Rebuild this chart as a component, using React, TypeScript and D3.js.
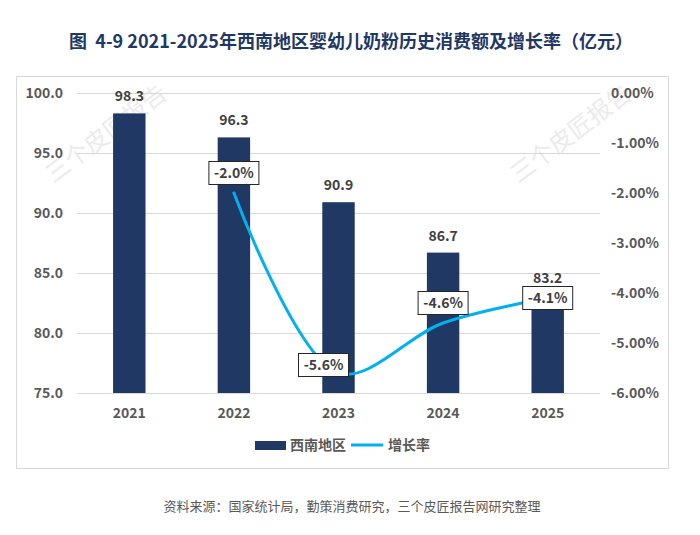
import { useEffect, useRef } from "react";
import * as d3 from "d3";

const years = ["2021", "2022", "2023", "2024", "2025"];
const consumption = [98.3, 96.3, 90.9, 86.7, 83.2];
const growthYears = ["2022", "2023", "2024", "2025"];
const growthRate = [-2.0, -5.6, -4.6, -4.1];
const leftTicks = [75, 80, 85, 90, 95, 100];
const rightTicks = [0, -1, -2, -3, -4, -5, -6];

const title = "图  4-9 2021-2025年西南地区婴幼儿奶粉历史消费额及增长率（亿元）";
const source = "资料来源：国家统计局，勤策消费研究，三个皮匠报告网研究整理";
const watermark = "三个皮匠报告";

// where each growth label sits relative to its point (Excel-like placement)
const growthLabelOffset = [
  { dx: 0, dy: -20 },
  { dx: -15, dy: -8 },
  { dx: 0, dy: -20 },
  { dx: 0, dy: 0 },
];

const FONT = "'Noto Sans CJK SC', 'Open Sans', sans-serif";
const NAVY = "#203864";
const CYAN = "#00b0f0";
const GREY = "#595959";

export default function App() {
  const svgRef = useRef<SVGSVGElement>(null);

  const dims = {
    width: 700,
    height: 535,
    plotLeft: 77,
    plotRight: 600,
    plotTop: 93,
    plotBottom: 393,
  };

  useEffect(() => {
    const svg = d3.select(svgRef.current);
    svg.selectAll("*").remove();

    svg
      .append("rect")
      .attr("width", dims.width)
      .attr("height", dims.height)
      .attr("fill", "white");

    // title
    svg
      .append("text")
      .attr("x", 351)
      .attr("y", 48)
      .attr("text-anchor", "middle")
      .attr("font-family", FONT)
      .attr("font-size", 18)
      .attr("font-weight", "bold")
      .attr("fill", "#1f3864")
      .attr("xml:space", "preserve")
      .text(title);

    // chart frame
    svg
      .append("rect")
      .attr("x", 16.5)
      .attr("y", 76.5)
      .attr("width", 652)
      .attr("height", 392)
      .attr("fill", "white")
      .attr("stroke", "#d9d9d9");

    // watermarks
    [
      [107, 135],
      [572, 135],
    ].forEach(([cx, cy]) => {
      svg
        .append("text")
        .attr("transform", `translate(${cx},${cy}) rotate(-37)`)
        .attr("text-anchor", "middle")
        .attr("dominant-baseline", "middle")
        .attr("font-family", FONT)
        .attr("font-size", 24)
        .attr("fill", "#ebebeb")
        .text(watermark);
    });

    const x = d3
      .scaleBand()
      .domain(years)
      .range([dims.plotLeft, dims.plotRight])
      .paddingInner(0.69)
      .paddingOuter(0.345);
    const xCenter = (d: string) =>
      (x(d) as number) + x.bandwidth() / 2;

    const yLeft = d3
      .scaleLinear()
      .domain([75, 100])
      .range([dims.plotBottom, dims.plotTop]);
    const yRight = d3
      .scaleLinear()
      .domain([-6, 0])
      .range([dims.plotBottom, dims.plotTop]);

    // gridlines
    svg
      .append("g")
      .selectAll("line")
      .data(leftTicks)
      .enter()
      .append("line")
      .attr("x1", dims.plotLeft)
      .attr("x2", dims.plotRight)
      .attr("y1", (d) => Math.round(yLeft(d)) + 0.5)
      .attr("y2", (d) => Math.round(yLeft(d)) + 0.5)
      .attr("stroke", "#d9d9d9")
      .attr("stroke-width", 1);

    // left axis
    const leftAxis = svg
      .append("g")
      .attr("transform", `translate(${dims.plotLeft - 11},0)`)
      .call(
        d3
          .axisLeft(yLeft)
          .tickValues(leftTicks)
          .tickSize(0)
          .tickFormat((d) => (d as number).toFixed(1))
      );
    leftAxis.select(".domain").remove();
    leftAxis
      .selectAll("text")
      .attr("font-family", FONT)
      .attr("font-size", 14)
      .attr("font-weight", "bold")
      .attr("fill", GREY);

    // right axis
    const rightAxis = svg
      .append("g")
      .attr("transform", `translate(${dims.plotRight + 8},0)`)
      .call(
        d3
          .axisRight(yRight)
          .tickValues(rightTicks)
          .tickSize(0)
          .tickFormat((d) => (d as number).toFixed(2) + "%")
      );
    rightAxis.select(".domain").remove();
    rightAxis
      .selectAll("text")
      .attr("font-family", FONT)
      .attr("font-size", 14)
      .attr("font-weight", "bold")
      .attr("fill", GREY);

    // bottom axis
    const bottomAxis = svg
      .append("g")
      .attr("transform", `translate(0,${dims.plotBottom + 12})`)
      .call(d3.axisBottom(x).tickSize(0));
    bottomAxis.select(".domain").remove();
    bottomAxis
      .selectAll("text")
      .attr("font-family", FONT)
      .attr("font-size", 14)
      .attr("font-weight", "bold")
      .attr("fill", GREY);

    // bars
    const barData = years.map((y, i) => ({ year: y, value: consumption[i] }));
    svg
      .append("g")
      .selectAll("rect")
      .data(barData)
      .enter()
      .append("rect")
      .attr("x", (d) => x(d.year)!)
      .attr("width", x.bandwidth())
      .attr("y", (d) => yLeft(d.value))
      .attr("height", (d) => dims.plotBottom - yLeft(d.value))
      .attr("fill", NAVY);

    svg
      .append("g")
      .selectAll("text")
      .data(barData)
      .enter()
      .append("text")
      .attr("x", (d) => xCenter(d.year))
      .attr("y", (d) => yLeft(d.value) - 12)
      .attr("text-anchor", "middle")
      .attr("font-family", FONT)
      .attr("font-size", 14)
      .attr("font-weight", "bold")
      .attr("fill", "#404040")
      .text((d) => d.value.toFixed(1));

    // growth line
    const lineData = growthYears.map((y, i) => ({ year: y, value: growthRate[i] }));
    const line = d3
      .line<{ year: string; value: number }>()
      .x((d) => xCenter(d.year))
      .y((d) => yRight(d.value))
      .curve(d3.curveCatmullRom.alpha(0.5));

    svg
      .append("path")
      .datum(lineData)
      .attr("d", line)
      .attr("fill", "none")
      .attr("stroke", CYAN)
      .attr("stroke-width", 3)
      .attr("stroke-linecap", "round");

    // growth labels
    const labels = svg
      .append("g")
      .selectAll("g")
      .data(lineData)
      .enter()
      .append("g")
      .attr(
        "transform",
        (d, i) =>
          `translate(${xCenter(d.year) + growthLabelOffset[i].dx},${
            yRight(d.value) + growthLabelOffset[i].dy
          })`
      );
    labels
      .append("rect")
      .attr("x", -25)
      .attr("y", -11.5)
      .attr("width", 50)
      .attr("height", 23)
      .attr("fill", "white")
      .attr("stroke", "#262626")
      .attr("stroke-width", 1);
    labels
      .append("text")
      .attr("text-anchor", "middle")
      .attr("dy", "0.36em")
      .attr("font-family", FONT)
      .attr("font-size", 14)
      .attr("font-weight", "bold")
      .attr("fill", "#404040")
      .text((d) => d.value.toFixed(1) + "%");

    // legend
    const legend = svg.append("g").attr("transform", "translate(255,445)");
    legend
      .append("rect")
      .attr("x", 0)
      .attr("y", -4)
      .attr("width", 31)
      .attr("height", 9)
      .attr("fill", NAVY);
    legend
      .append("text")
      .attr("x", 35)
      .attr("dy", "0.36em")
      .attr("font-family", FONT)
      .attr("font-size", 14)
      .attr("font-weight", "bold")
      .attr("fill", GREY)
      .text("西南地区");
    legend
      .append("line")
      .attr("x1", 96)
      .attr("x2", 128)
      .attr("stroke", CYAN)
      .attr("stroke-width", 3);
    legend
      .append("text")
      .attr("x", 133)
      .attr("dy", "0.36em")
      .attr("font-family", FONT)
      .attr("font-size", 14)
      .attr("font-weight", "bold")
      .attr("fill", GREY)
      .text("增长率");

    // source
    svg
      .append("text")
      .attr("x", 352)
      .attr("y", 511)
      .attr("text-anchor", "middle")
      .attr("font-family", FONT)
      .attr("font-size", 13)
      .attr("fill", GREY)
      .text(source);
  }, []);

  return (
    <svg
      ref={svgRef}
      width={dims.width}
      height={dims.height}
      style={{ position: "absolute", left: 0, top: 0, display: "block" }}
    ></svg>
  );
}
